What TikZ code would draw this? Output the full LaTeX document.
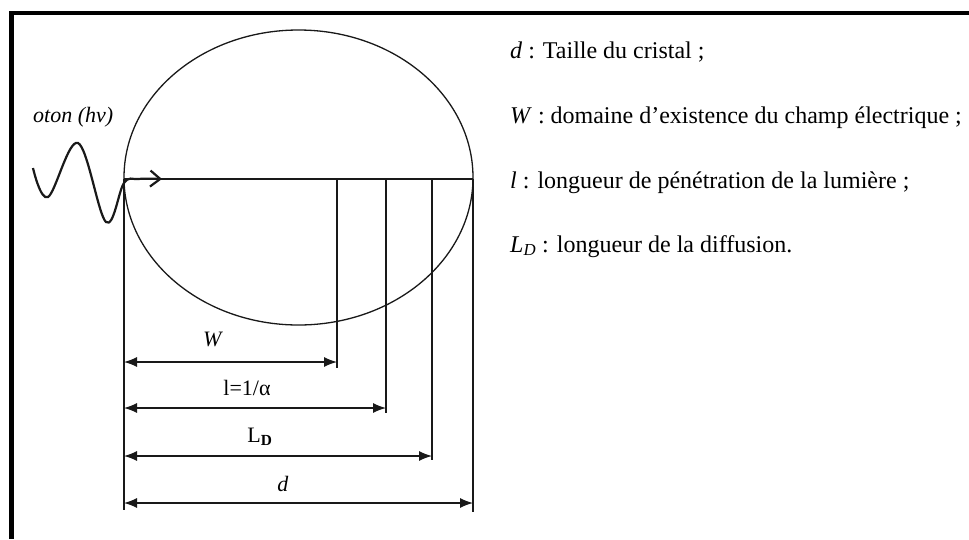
\documentclass[tikz,border=0pt]{standalone}
\usepackage{fontspec}
\setmainfont{Liberation Serif}
\usepackage{xcolor}
\usepackage{tikz}
\usetikzlibrary{shapes.geometric, arrows.meta, positioning, calc}
\definecolor{InkBlack}{RGB}{25, 25, 25}

\begin{document}
\begin{tikzpicture}[x=1pt, y=-1pt,
    thinline/.style={draw=InkBlack, line width=1.3pt},
    dimarrow/.style={thinline, {Latex[length=13pt,width=10pt]}-{Latex[length=13pt,width=10pt]}},
    dimlabel/.style={font=\fontsize{22}{24}\selectfont, inner sep=0pt},
    legend/.style={font=\fontsize{24}{26}\selectfont, anchor=base west, inner sep=0pt}]
  \useasboundingbox (0,0) rectangle (969,539);
  % frame
  \draw[line width=4.5pt] (969,13) -- (11.5,13) -- (11.5,539);

  % crystal
  \node[ellipse, thinline, minimum width=349pt, minimum height=295pt, inner sep=0pt] (crystal) at (298.5,177.5) {};
  \coordinate (entry) at (124,179);
  \coordinate (exit) at (473,179);
  \draw[thinline] (entry) -- (exit);

  % vertical markers
  \foreach \name/\x/\y in {left/124/510, w/337/368, l/386/413, ld/432/460, d/473/512} {
    \coordinate (\name Top) at (\x,179);
    \coordinate (\name Bot) at (\x,\y);
    \draw[thinline] (\name Top) -- (\name Bot);
  }

  % dimension arrows
  \foreach \name/\y in {w/362, l/408, ld/456, d/503} {
    \coordinate (\name ArrL) at (leftTop |- 0,\y);
    \coordinate (\name ArrR) at (\name Top |- 0,\y);
    \draw[dimarrow] (\name ArrL) -- (\name ArrR);
  }
  \node[dimlabel] (wLab) at (213,339) {\textit{W}};
  \node[dimlabel] (lLab) at (247,388) {l=1/α};
  \node[dimlabel] (ldLab) at (260,437) {L\textsubscript{\textbf{D}}};
  \node[dimlabel] (dLab) at (283,484) {\textit{d}};

  % photon
  \node[font=\fontsize{22}{24}\selectfont\itshape, anchor=base west, inner sep=0pt] (photon) at (33,122) {oton (hv)};
  \draw[line width=2.2pt, InkBlack, -{Straight Barb[length=10pt,width=16pt]}]
    plot[smooth, tension=0.6] coordinates {(33,168) (48,197) (78,143) (106,222) (124,183) (138,179) (162,179)};

  % legend
  \node[legend] (legD) at (510,58) {\textit{d} : Taille du cristal ;};
  \node[legend] (legW) at (510,123) {\textit{W} : domaine d’existence du champ électrique ;};
  \node[legend] (legL) at (510,188) {\textit{l} : longueur de pénétration de la lumière ;};
  \node[legend] (legLD) at (510,252) {\textit{L\textsubscript{D}} : longueur de la diffusion.};
\end{tikzpicture}
\end{document}
